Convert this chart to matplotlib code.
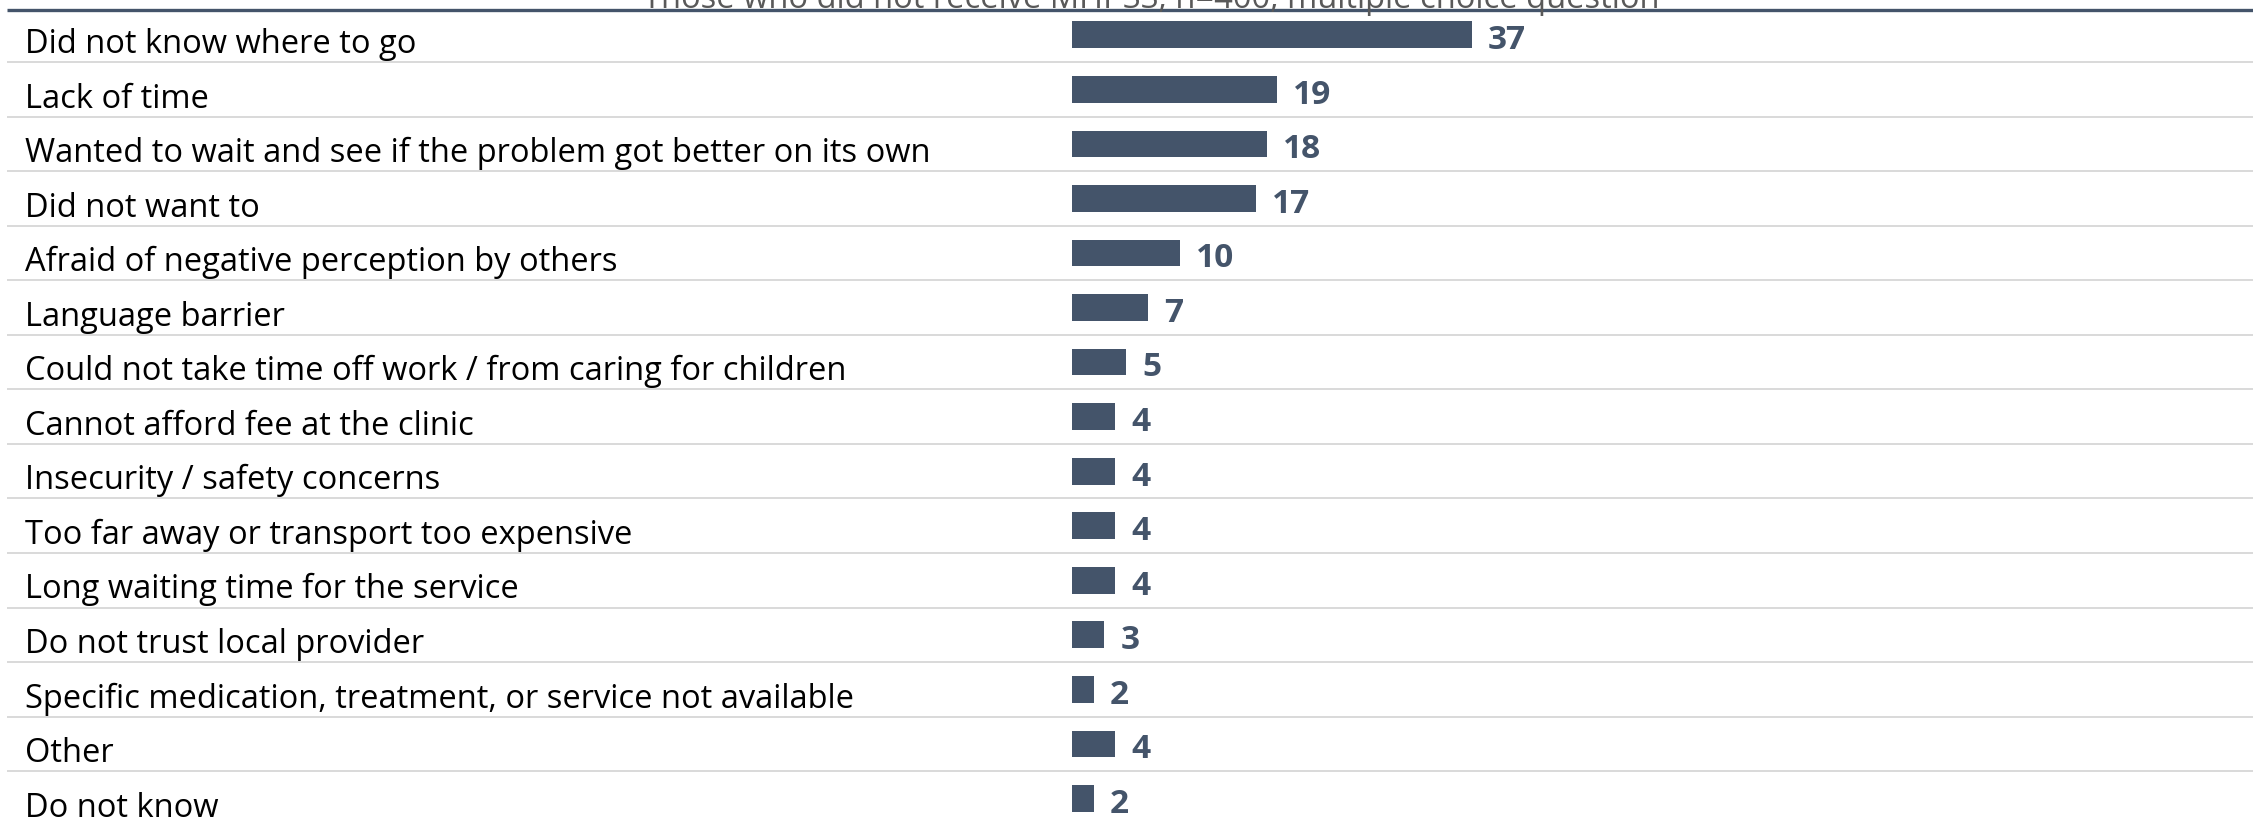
import matplotlib.pyplot as plt

plt.rcParams['font.family'] = ['Open Sans', 'DejaVu Sans']

reasons = [
    "Did not know where to go",
    "Lack of time",
    "Wanted to wait and see if the problem got better on its own",
    "Did not want to",
    "Afraid of negative perception by others",
    "Language barrier",
    "Could not take time off work / from caring for children",
    "Cannot afford fee at the clinic",
    "Insecurity / safety concerns",
    "Too far away or transport too expensive",
    "Long waiting time for the service",
    "Do not trust local provider",
    "Specific medication, treatment, or service not available",
    "Other",
    "Do not know",
]
percent = [37, 19, 18, 17, 10, 7, 5, 4, 4, 4, 4, 3, 2, 4, 2]

title = "Those who did not receive MHPSS, n=400, multiple choice question"

BAR = "#44546A"
GRID = "#D9D9D9"

W, H = 2253, 820
fig = plt.figure(figsize=(W / 100, H / 100), dpi=100)
ax = fig.add_axes([0, 0, 1, 1])

# pixel layout: bars start at x=1072, 10.81 px per unit;
# row centres at y = 35.8 + 54.55 * i
px_unit = 10.81
x0 = 1072
row_h = 54.55
first = 35.8
ax.set_xlim(-x0 / px_unit, (W - x0) / px_unit)
ax.set_ylim((H - first) / row_h, -first / row_h)
ax.axis('off')

rows = range(len(reasons))
ax.barh(rows, percent, height=0.49, color=BAR, align='center')

x_left = -(x0 - 7) / px_unit
x_right = (W - x0) / px_unit
for i in rows:
    ax.text(-(x0 - 25) / px_unit, i + 0.315, reasons[i], fontsize=23.5,
            color="#000000", va='baseline', ha='left')
    ax.annotate(str(percent[i]), (percent[i], i + 0.245), xytext=(11.5, 0),
                textcoords='offset points', fontsize=24, fontweight='bold',
                color=BAR, va='baseline', ha='left')
    if i < len(reasons) - 1:
        ax.plot([x_left, x_right], [i + 0.5, i + 0.5], color=GRID, lw=1.4,
                solid_capstyle='butt', zorder=0)

# dark rule under the header
ax.plot([x_left, x_right], [-0.455, -0.455], color=BAR, lw=2.4,
        solid_capstyle='butt')

fig.text(1151 / W, 1 - 8 / H, title, fontsize=23.5, color="#595959",
         ha='center', va='baseline')

fig.savefig("out.png", dpi=100, facecolor='white')
